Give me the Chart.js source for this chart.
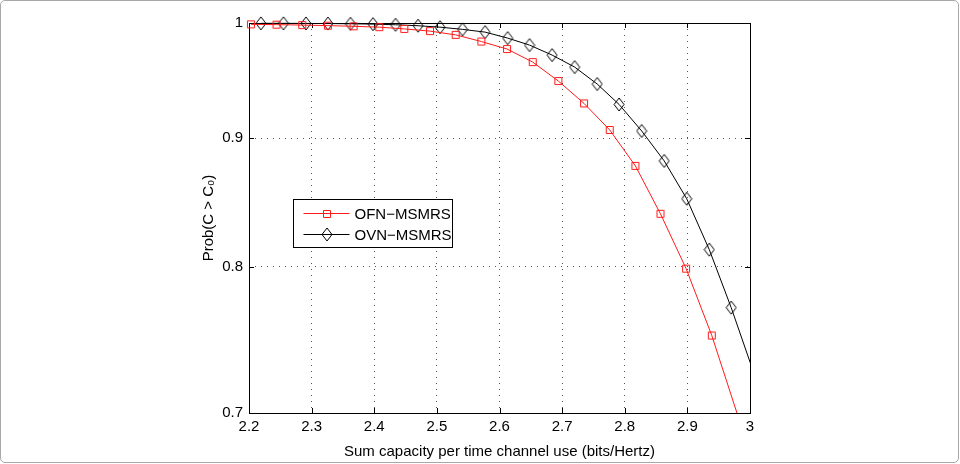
<!DOCTYPE html>
<html>
<head>
<meta charset="utf-8">
<script src="https://cdn.jsdelivr.net/npm/chart.js@4/dist/chart.umd.min.js"></script>
<style>
  html, body { margin: 0; padding: 0; background: #fff; }
  #wrap { position: relative; width: 960px; height: 464px; }
  #frame {
    position: absolute; left: 0; top: 0; width: 957px; height: 461px;
    border: 1px solid #a8a8a8; border-radius: 5px; pointer-events: none;
  }
</style>
</head>
<body>
<div id="wrap">
  <canvas id="chart" width="960" height="464"></canvas>
  <div id="frame"></div>
</div>
<script>
// Values
const ofnX = [2.203, 2.244, 2.285, 2.326, 2.367, 2.408, 2.448, 2.489, 2.530, 2.571,
              2.612, 2.653, 2.694, 2.735, 2.776, 2.817, 2.857, 2.898, 2.939, 2.980];
const ofnY = [0.9988, 0.9985, 0.9981, 0.9976, 0.9970, 0.9962, 0.9946, 0.9926, 0.9892, 0.9832,
              0.9765, 0.9649, 0.9483, 0.9291, 0.9068, 0.8775, 0.8399, 0.7988, 0.7514, 0.6990];

const ovnX = [2.219, 2.255, 2.291, 2.326, 2.362, 2.398, 2.434, 2.470, 2.505, 2.541, 2.577,
              2.613, 2.648, 2.684, 2.720, 2.756, 2.791, 2.827, 2.863, 2.899, 2.935, 2.970, 3.006];
const ovnY = [0.9997, 0.9997, 0.9996, 0.9995, 0.9993, 0.9990, 0.9984, 0.9975, 0.9962, 0.9942, 0.9917,
              0.9863, 0.9800, 0.9711, 0.9605, 0.9457, 0.9282, 0.9060, 0.8815, 0.8515, 0.8128, 0.7708, 0.7262];

const seriesNames = ['OFN\u2212MSMRS', 'OVN\u2212MSMRS'];

const xTicks = [2.2, 2.3, 2.4, 2.5, 2.6, 2.7, 2.8, 2.9, 3.0];
const yTicks = [0.7, 0.8, 0.9, 1];
const yTickLabels = ['0.7', '0.8', '0.9', '1'];

const FONT = "'Liberation Sans', Arial, Helvetica, sans-serif";

/**
 * Build an outlined marker image (square or diamond)
 */
function makeMarker(kind, color) {
    const c = document.createElement('canvas');
    const w = kind === 'square' ? 10 : 12;
    const h = kind === 'square' ? 10 : 15;
    c.width = w;
    c.height = h;
    const g = c.getContext('2d');
    g.strokeStyle = color;
    g.lineWidth = 1;
    g.beginPath();
    if (kind === 'square') {
        g.rect(1.5, 1.5, 7, 7);
    } else {
        g.moveTo(w / 2, 1);
        g.lineTo(w - 1, h / 2);
        g.lineTo(w / 2, h - 1);
        g.lineTo(1, h / 2);
        g.closePath();
    }
    g.stroke();
    return c;
}

const squareMarker = makeMarker('square', '#ff1a1a');
const diamondMarker = makeMarker('diamond', '#000');

function toPoints(xs, ys) {
    return xs.map((x, i) => ({ x: x, y: ys[i] }));
}

// hide markers whose point lies outside the axes (like MATLAB)
function markerRadius(ctx) {
    const p = ctx.raw;
    if (!p) return 5;
    return (p.x > 3 || p.y < 0.7) ? 0 : 5;
}

/**
 * Axes box with inward tick marks, drawn under the data
 */
const axesBoxPlugin = {
    id: 'axesBox',
    beforeDatasetsDraw(chart) {
        const { ctx, chartArea: a, scales } = chart;
        ctx.save();
        ctx.strokeStyle = '#000';
        ctx.lineWidth = 1;
        ctx.beginPath();
        xTicks.forEach(v => {
            const px = Math.round(scales.x.getPixelForValue(v)) + 0.5;
            ctx.moveTo(px, a.bottom);
            ctx.lineTo(px, a.bottom - 5);
            ctx.moveTo(px, a.top);
            ctx.lineTo(px, a.top + 5);
        });
        yTicks.forEach(v => {
            const py = Math.round(scales.y.getPixelForValue(v)) + 0.5;
            ctx.moveTo(a.left, py);
            ctx.lineTo(a.left + 5, py);
            ctx.moveTo(a.right, py);
            ctx.lineTo(a.right - 5, py);
        });
        ctx.stroke();
        ctx.strokeRect(Math.round(a.left) + 0.5, Math.round(a.top) + 0.5,
                       Math.round(a.right - a.left), Math.round(a.bottom - a.top));
        ctx.restore();
    }
};

/**
 * Legend box inside the plot area
 */
const boxLegendPlugin = {
    id: 'boxLegend',
    afterDraw(chart) {
        const ctx = chart.ctx;
        const box = { x: 293.5, y: 199.5, w: 159, h: 48 };
        const markers = [squareMarker, diamondMarker];
        ctx.save();
        ctx.fillStyle = '#fff';
        ctx.fillRect(box.x, box.y, box.w, box.h);
        ctx.strokeStyle = '#000';
        ctx.lineWidth = 1;
        ctx.strokeRect(box.x, box.y, box.w, box.h);
        ctx.font = '15px ' + FONT;
        ctx.textBaseline = 'middle';
        chart.data.datasets.forEach((ds, i) => {
            const cy = Math.round(box.y + 13 + i * 21) + 0.5;
            ctx.strokeStyle = ds.borderColor;
            ctx.beginPath();
            ctx.moveTo(box.x + 10, cy);
            ctx.lineTo(box.x + 56, cy);
            ctx.stroke();
            const m = markers[i];
            ctx.drawImage(m, Math.round(box.x + 33 - m.width / 2), Math.round(cy - m.height / 2));
            ctx.fillStyle = '#000';
            ctx.fillText(ds.label, box.x + 61, cy + 1);
        });
        ctx.restore();
    }
};

const chart = new Chart(document.getElementById('chart').getContext('2d'), {
    type: 'line',
    data: {
        datasets: [
            {
                label: seriesNames[0],
                data: toPoints(ofnX, ofnY),
                borderColor: '#ff1a1a',
                borderWidth: 1,
                pointStyle: squareMarker,
                pointRadius: markerRadius,
                pointHoverRadius: markerRadius,
                tension: 0,
                fill: false,
                clip: { left: 10, top: 10, right: 0, bottom: 0 }
            },
            {
                label: seriesNames[1],
                data: toPoints(ovnX, ovnY),
                borderColor: '#000',
                borderWidth: 1,
                pointStyle: diamondMarker,
                pointRadius: markerRadius,
                pointHoverRadius: markerRadius,
                tension: 0,
                fill: false,
                clip: { left: 10, top: 10, right: 0, bottom: 0 }
            }
        ]
    },
    options: {
        responsive: false,
        animation: false,
        devicePixelRatio: 1,
        layout: {
            padding: { left: 196, right: 210, top: 23, bottom: 0 }
        },
        plugins: {
            legend: { display: false },
            tooltip: { enabled: false }
        },
        scales: {
            x: {
                type: 'linear',
                min: 2.2,
                max: 3,
                afterBuildTicks: scale => {
                    scale.ticks = xTicks.map(v => ({ value: v }));
                },
                afterFit: scale => { scale.height = 51; },
                ticks: {
                    color: '#000',
                    font: { family: FONT, size: 15 },
                    padding: 5,
                    maxRotation: 0,
                    autoSkip: false,
                    callback: v => String(Number(v.toFixed(1)))
                },
                grid: {
                    color: '#555',
                    lineWidth: 1,
                    drawTicks: false
                },
                border: { display: false, dash: [1, 5] },
                title: {
                    display: true,
                    text: 'Sum capacity per time channel use (bits/Hertz)',
                    color: '#000',
                    font: { family: FONT, size: 15 },
                    padding: { top: 0, bottom: 3 }
                }
            },
            y: {
                type: 'logarithmic',
                min: 0.7,
                max: 1,
                afterBuildTicks: scale => {
                    scale.ticks = yTicks.map(v => ({ value: v }));
                },
                afterFit: scale => { scale.width = 53; },
                ticks: {
                    color: '#000',
                    font: { family: FONT, size: 15 },
                    padding: 6,
                    autoSkip: false,
                    callback: (v, i) => yTickLabels[i]
                },
                grid: {
                    color: '#555',
                    lineWidth: 1,
                    drawTicks: false
                },
                border: { display: false, dash: [1, 5] },
                title: {
                    display: true,
                    text: 'Prob(C > C\u2080)',
                    color: '#000',
                    font: { family: FONT, size: 15 },
                    padding: { top: 4, bottom: 4 }
                }
            }
        }
    },
    plugins: [axesBoxPlugin, boxLegendPlugin]
});
</script>
</body>
</html>
